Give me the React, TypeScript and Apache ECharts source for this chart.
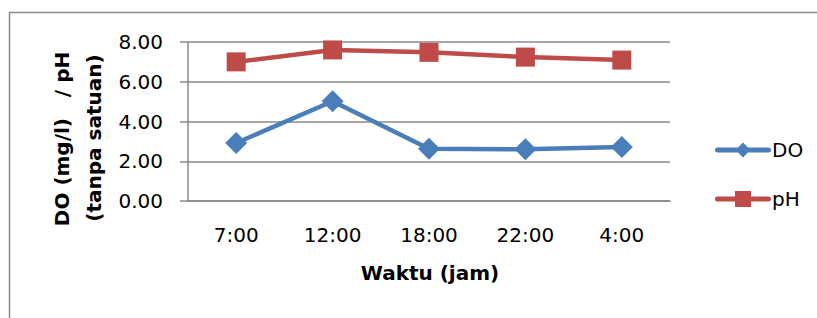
import React, { useEffect, useRef } from "react";
import * as echarts from "echarts";

const categories = ["7:00", "12:00", "18:00", "22:00", "4:00"];
const doValues = [2.92, 5.02, 2.63, 2.6, 2.72];
const phValues = [7.0, 7.6, 7.48, 7.24, 7.09];
const yTicks = [0, 2, 4, 6, 8];

const FONT = "'DejaVu Sans', sans-serif";
const BLUE = "#4a7ebb";
const RED = "#be4b48";
const GRID = "#8a8a8a";

const DO_ICON = "path://M2.5,5.5 H53.5 A2.5,2.5 0 0 1 53.5,10.5 H2.5 A2.5,2.5 0 0 1 2.5,5.5 Z M28,0.5 L35.5,8 L28,15.5 L20.5,8 Z";
const PH_ICON = "path://M2.5,5.5 H53.5 A2.5,2.5 0 0 1 53.5,10.5 H2.5 A2.5,2.5 0 0 1 2.5,5.5 Z M20,0 H36 V16 H20 Z";

const legendCommon = {
  orient: "vertical",
  left: 710,
  itemWidth: 56,
  itemHeight: 16,
  textStyle: { color: "#000", fontSize: 20, fontFamily: FONT, padding: [0, 0, 0, -4] },
};

const titleStyle = {
  fontFamily: FONT,
  fontSize: 20,
  fontWeight: "bold",
  fill: "#000",
  align: "center",
  verticalAlign: "middle",
};

export default function App() {
  const ref = useRef<HTMLDivElement>(null);
  useEffect(() => {
    const chart = echarts.init(ref.current!, null, { renderer: "svg" });
    chart.setOption({
      animation: false,
      backgroundColor: "#ffffff",
      textStyle: { fontFamily: FONT },
      grid: { left: 188, right: 147, top: 42, bottom: 117 },
      xAxis: {
        type: "category",
        data: categories,
        boundaryGap: true,
        axisLine: { lineStyle: { color: GRID, width: 1.5 } },
        axisTick: { show: false },
        axisLabel: { color: "#000", fontSize: 20, margin: 24, fontFamily: FONT },
      },
      yAxis: {
        type: "value",
        min: yTicks[0],
        max: yTicks[yTicks.length - 1],
        interval: 2,
        axisLine: { show: true, lineStyle: { color: GRID, width: 1.5 } },
        axisTick: { show: true, length: 8, lineStyle: { color: GRID, width: 1.5 } },
        splitLine: { lineStyle: { color: GRID, width: 1.5 } },
        axisLabel: {
          color: "#000",
          fontSize: 20,
          margin: 25,
          fontFamily: FONT,
          formatter: (v: number) => v.toFixed(2),
        },
      },
      legend: [
        { ...legendCommon, top: 135, data: [{ name: "DO", icon: DO_ICON }] },
        { ...legendCommon, top: 184, data: [{ name: "pH", icon: PH_ICON }] },
      ],
      graphic: [
        {
          type: "rect",
          shape: { x: 9.5, y: 12.5, width: 900, height: 400 },
          style: { fill: "none", stroke: "#8a8a8a", lineWidth: 1.5 },
          silent: true,
        },
        {
          type: "text",
          x: 62,
          y: 139,
          rotation: Math.PI / 2,
          style: { ...titleStyle, text: "DO (mg/l)   / pH" },
        },
        {
          type: "text",
          x: 94,
          y: 138,
          rotation: Math.PI / 2,
          style: { ...titleStyle, text: "(tanpa satuan)" },
        },
        {
          type: "text",
          x: 430,
          y: 273,
          style: { ...titleStyle, text: "Waktu (jam)" },
        },
      ],
      series: [
        {
          name: "DO",
          type: "line",
          data: doValues,
          symbol: "diamond",
          symbolSize: 22,
          lineStyle: { color: BLUE, width: 4.5 },
          itemStyle: { color: BLUE },
        },
        {
          name: "pH",
          type: "line",
          data: phValues,
          symbol: "rect",
          symbolSize: 19,
          lineStyle: { color: RED, width: 4.5 },
          itemStyle: { color: RED },
        },
      ],
    });
    return () => chart.dispose();
  }, []);
  return (
    <div
      ref={ref}
      style={{ position: "fixed", left: 0, top: 0, width: 817, height: 318, background: "#fff" }}
    />
  );
}
